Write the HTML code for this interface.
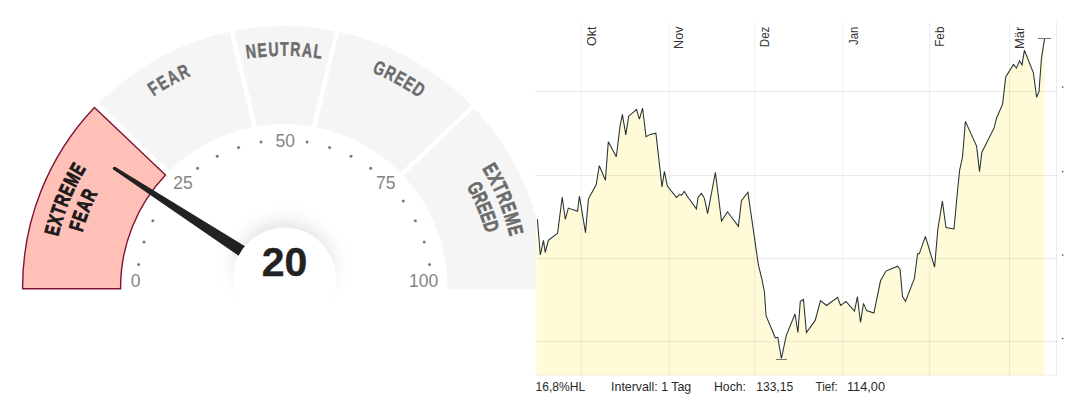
<!DOCTYPE html>
<html><head><meta charset="utf-8"><style>
html,body{margin:0;padding:0;background:#fff;width:1079px;height:412px;overflow:hidden}
svg{display:block}
</style></head><body>
<svg width="1079" height="412" viewBox="0 0 1079 412">
<defs><filter id="blr" x="-50%" y="-50%" width="200%" height="200%"><feGaussianBlur stdDeviation="9"/></filter><linearGradient id="mg" x1="0" y1="0" x2="0" y2="412" gradientUnits="userSpaceOnUse"><stop offset="0.62" stop-color="#fff"/><stop offset="0.735" stop-color="#000"/></linearGradient><mask id="gclip" maskUnits="userSpaceOnUse" x="0" y="0" width="600" height="412"><rect x="0" y="0" width="600" height="412" fill="url(#mg)"/></mask></defs>
<path d="M22.60 288.7 L22.60 287.50 A261.5 261.5 0 0 1 545.60 287.50 L545.60 288.7 L447.60 288.7 L447.60 287.50 A163.5 163.5 0 0 0 120.60 287.50 L120.60 288.7 Z" fill="#f5f5f5"/>
<line x1="229.89" y1="23.67" x2="256.31" y2="133.23" stroke="#fff" stroke-width="4.5"/>
<line x1="338.91" y1="23.67" x2="312.49" y2="132.73" stroke="#fff" stroke-width="4.5"/>
<line x1="478.05" y1="101.77" x2="397.75" y2="178.03" stroke="#fff" stroke-width="4.5"/>
<path d="M22.60 288.7 L22.60 287.50 A261.5 261.5 0 0 1 94.41 107.50 L165.50 174.95 A163.5 163.5 0 0 0 120.60 287.50 L120.60 288.7 Z" fill="none" stroke="#fff" stroke-width="12" stroke-linejoin="miter"/>
<path d="M22.60 288.7 L22.60 287.50 A261.5 261.5 0 0 1 94.41 107.50 L165.50 174.95 A163.5 163.5 0 0 0 120.60 287.50 L120.60 288.7 Z" fill="#ffc0b8" stroke="#7d1434" stroke-width="1.4" stroke-linejoin="miter"/>
<g font-family='"Liberation Sans", sans-serif' font-weight="bold" font-size="20.5" fill="#1a1a1a" stroke="#1a1a1a" stroke-width="0.9"><text transform="translate(59.23 232.02) rotate(-75.66) scale(0.7 1)" text-anchor="middle">E</text><text transform="translate(62.02 222.06) rotate(-73.10) scale(0.7 1)" text-anchor="middle">X</text><text transform="translate(65.11 212.62) rotate(-70.65) scale(0.7 1)" text-anchor="middle">T</text><text transform="translate(68.75 202.94) rotate(-68.09) scale(0.7 1)" text-anchor="middle">R</text><text transform="translate(72.99 193.08) rotate(-65.44) scale(0.7 1)" text-anchor="middle">E</text><text transform="translate(78.04 182.71) rotate(-62.59) scale(0.7 1)" text-anchor="middle">M</text><text transform="translate(83.60 172.60) rotate(-59.74) scale(0.7 1)" text-anchor="middle">E</text></g>
<g font-family='"Liberation Sans", sans-serif' font-weight="bold" font-size="20.5" fill="#1a1a1a" stroke="#1a1a1a" stroke-width="0.9"><text transform="translate(83.42 228.33) rotate(-73.04) scale(0.7 1)" text-anchor="middle">F</text><text transform="translate(86.61 218.70) rotate(-70.27) scale(0.7 1)" text-anchor="middle">E</text><text transform="translate(90.58 208.50) rotate(-67.28) scale(0.7 1)" text-anchor="middle">A</text><text transform="translate(95.24 198.16) rotate(-64.18) scale(0.7 1)" text-anchor="middle">R</text></g>
<g font-family='"Liberation Sans", sans-serif' font-weight="bold" font-size="19.6" fill="#6b6b6b" stroke="#6b6b6b" stroke-width="0.45"><text transform="translate(157.01 94.15) rotate(-33.03) scale(0.72 1)" text-anchor="middle">F</text><text transform="translate(165.97 88.60) rotate(-30.43) scale(0.72 1)" text-anchor="middle">E</text><text transform="translate(175.88 83.11) rotate(-27.65) scale(0.72 1)" text-anchor="middle">A</text><text transform="translate(186.39 77.93) rotate(-24.77) scale(0.72 1)" text-anchor="middle">R</text></g>
<g font-family='"Liberation Sans", sans-serif' font-weight="bold" font-size="19.6" fill="#6b6b6b" stroke="#6b6b6b" stroke-width="0.45"><text transform="translate(251.70 58.04) rotate(-7.94) scale(0.72 1)" text-anchor="middle">N</text><text transform="translate(262.69 56.77) rotate(-5.23) scale(0.72 1)" text-anchor="middle">E</text><text transform="translate(273.73 56.03) rotate(-2.52) scale(0.72 1)" text-anchor="middle">U</text><text transform="translate(284.40 55.80) rotate(0.10) scale(0.72 1)" text-anchor="middle">T</text><text transform="translate(295.06 56.06) rotate(2.71) scale(0.72 1)" text-anchor="middle">R</text><text transform="translate(306.49 56.88) rotate(5.52) scale(0.72 1)" text-anchor="middle">A</text><text transform="translate(317.08 58.15) rotate(8.14) scale(0.72 1)" text-anchor="middle">L</text></g>
<g font-family='"Liberation Sans", sans-serif' font-weight="bold" font-size="19.6" fill="#6b6b6b" stroke="#6b6b6b" stroke-width="0.45"><text transform="translate(376.82 74.37) rotate(23.34) scale(0.72 1)" text-anchor="middle">G</text><text transform="translate(387.30 79.20) rotate(26.16) scale(0.72 1)" text-anchor="middle">R</text><text transform="translate(396.84 84.16) rotate(28.79) scale(0.72 1)" text-anchor="middle">E</text><text transform="translate(405.82 89.36) rotate(31.33) scale(0.72 1)" text-anchor="middle">E</text><text transform="translate(414.87 95.16) rotate(33.96) scale(0.72 1)" text-anchor="middle">D</text></g>
<g font-family='"Liberation Sans", sans-serif' font-weight="bold" font-size="20.5" fill="#6b6b6b" stroke="#6b6b6b" stroke-width="0.7"><text transform="translate(484.40 172.60) rotate(59.74) scale(0.7 1)" text-anchor="middle">E</text><text transform="translate(489.41 181.65) rotate(62.30) scale(0.7 1)" text-anchor="middle">X</text><text transform="translate(493.84 190.55) rotate(64.75) scale(0.7 1)" text-anchor="middle">T</text><text transform="translate(498.04 199.99) rotate(67.31) scale(0.7 1)" text-anchor="middle">R</text><text transform="translate(501.95 209.99) rotate(69.96) scale(0.7 1)" text-anchor="middle">E</text><text transform="translate(505.63 220.92) rotate(72.81) scale(0.7 1)" text-anchor="middle">M</text><text transform="translate(508.77 232.02) rotate(75.66) scale(0.7 1)" text-anchor="middle">E</text></g>
<g font-family='"Liberation Sans", sans-serif' font-weight="bold" font-size="20.5" fill="#6b6b6b" stroke="#6b6b6b" stroke-width="0.7"><text transform="translate(469.07 191.31) rotate(62.05) scale(0.7 1)" text-anchor="middle">G</text><text transform="translate(473.86 200.94) rotate(64.99) scale(0.7 1)" text-anchor="middle">R</text><text transform="translate(477.86 210.06) rotate(67.72) scale(0.7 1)" text-anchor="middle">E</text><text transform="translate(481.28 218.99) rotate(70.33) scale(0.7 1)" text-anchor="middle">E</text><text transform="translate(484.41 228.45) rotate(73.06) scale(0.7 1)" text-anchor="middle">D</text></g>
<circle cx="138.61" cy="264.46" r="1.5" fill="#7a7a7a"/>
<circle cx="144.01" cy="241.98" r="1.5" fill="#7a7a7a"/>
<circle cx="152.85" cy="220.63" r="1.5" fill="#7a7a7a"/>
<circle cx="164.93" cy="200.92" r="1.5" fill="#7a7a7a"/>
<circle cx="197.52" cy="168.33" r="1.5" fill="#7a7a7a"/>
<circle cx="217.23" cy="156.25" r="1.5" fill="#7a7a7a"/>
<circle cx="238.58" cy="147.41" r="1.5" fill="#7a7a7a"/>
<circle cx="261.06" cy="142.01" r="1.5" fill="#7a7a7a"/>
<circle cx="307.14" cy="142.01" r="1.5" fill="#7a7a7a"/>
<circle cx="329.62" cy="147.41" r="1.5" fill="#7a7a7a"/>
<circle cx="350.97" cy="156.25" r="1.5" fill="#7a7a7a"/>
<circle cx="370.68" cy="168.33" r="1.5" fill="#7a7a7a"/>
<circle cx="403.27" cy="200.92" r="1.5" fill="#7a7a7a"/>
<circle cx="415.35" cy="220.63" r="1.5" fill="#7a7a7a"/>
<circle cx="424.19" cy="241.98" r="1.5" fill="#7a7a7a"/>
<circle cx="429.59" cy="264.46" r="1.5" fill="#7a7a7a"/>
<text x="135.5" y="286.5" text-anchor="middle" font-family='"Liberation Sans", sans-serif' font-size="17.5" fill="#858585">0</text>
<text x="183" y="188.9" text-anchor="middle" font-family='"Liberation Sans", sans-serif' font-size="17.5" fill="#858585">25</text>
<text x="285.3" y="146.5" text-anchor="middle" font-family='"Liberation Sans", sans-serif' font-size="17.5" fill="#858585">50</text>
<text x="385.8" y="189.2" text-anchor="middle" font-family='"Liberation Sans", sans-serif' font-size="17.5" fill="#858585">75</text>
<text x="423.7" y="286.5" text-anchor="middle" font-family='"Liberation Sans", sans-serif' font-size="17.5" fill="#858585">100</text>
<polygon points="113.57,169.83 238.29,255.62 271.85,277.38 278.16,267.65 244.61,245.88 115.43,166.97" fill="#222"/>
<circle cx="114.5" cy="168.4" r="1.7" fill="#222"/>
<g mask="url(#gclip)"><circle cx="284.5" cy="272" r="50" fill="#000" fill-opacity="0.12" filter="url(#blr)"/></g>
<circle cx="284.5" cy="279" r="51.5" fill="#fff"/>
<text x="284.5" y="276.1" text-anchor="middle" font-family='"Liberation Sans", sans-serif' font-weight="bold" font-size="41" fill="#222" stroke="#222" stroke-width="0.35">20</text>
<rect x="536" y="0" width="543" height="412" fill="#fff"/>
<polygon points="536.5,375 536.5,219.3 537.4,219.3 540.3,255.0 543.5,240.4 545.2,252.5 548.4,240.4 557.6,233.1 562.2,197.2 565.3,219.3 568.3,208.1 577.5,211.3 579.4,196.2 585.5,232.6 588.4,199.1 596.2,184.5 599.3,165.7 605.4,180.3 608.3,141.7 616.3,156.8 620,126.4 622.4,114.3 625.8,134.9 628.7,116.2 636.5,109.4 639.4,119.1 642.6,108.2 646,136.6 650.3,134.4 655.9,133.2 662.0,187.0 664.4,171.3 667.3,186.0 676.5,197.4 679.9,194.3 681.4,195.2 684.3,191.4 688,197.2 696.4,208.8 698.1,197.2 701.5,193.5 704.5,198.6 707.6,213.7 715.4,172.4 721.5,221 727.5,211.8 738.4,226.3 741.4,200.8 747.9,192.3 758.4,265 762,279.6 764.4,291.7 766.1,316 775.3,337.8 777.8,337.3 781.4,358.5 786.3,335.4 795,314.0 797.9,332.5 800.3,301.4 803.5,299.5 806.4,332.5 815.2,320.4 820.5,300.7 826.6,305.5 837.5,297.3 840.6,305.5 846,301.4 854.5,311.1 857.4,296.6 860.5,322.5 863.5,303.4 866.6,310.6 873.9,313.1 880.5,280.8 886,271.1 897.5,266.2 900.1,269.4 902.5,296.6 905.5,301.4 914.4,278.4 917.6,253.8 919.3,253.8 925.4,236.3 934.6,267.1 937.8,229.5 942.4,201.1 946,227.5 954,229 957.2,194.3 959.6,170.4 962.5,157 965.4,121.4 976.6,146.1 979.5,171.6 981.9,152.2 994.1,127.9 996.5,118.2 1002.6,104.1 1005.7,77 1013.5,64.4 1016.4,68.1 1019.6,60.8 1022,64.9 1024.4,50.3 1033.4,72.9 1036.6,97.2 1039,91.6 1041.4,58.8 1044.6,38.2 1044.6,375" fill="#fffad8"/>
<line x1="581.3" y1="22.5" x2="581.3" y2="375.5" stroke="#000" stroke-opacity="0.075" stroke-width="1"/>
<line x1="669.3" y1="22.5" x2="669.3" y2="375.5" stroke="#000" stroke-opacity="0.075" stroke-width="1"/>
<line x1="754.7" y1="22.5" x2="754.7" y2="375.5" stroke="#000" stroke-opacity="0.075" stroke-width="1"/>
<line x1="842.8" y1="22.5" x2="842.8" y2="375.5" stroke="#000" stroke-opacity="0.075" stroke-width="1"/>
<line x1="929.7" y1="22.5" x2="929.7" y2="375.5" stroke="#000" stroke-opacity="0.075" stroke-width="1"/>
<line x1="1009.6" y1="22.5" x2="1009.6" y2="375.5" stroke="#000" stroke-opacity="0.075" stroke-width="1"/>
<line x1="1056.5" y1="22" x2="1056.5" y2="375.5" stroke="#000" stroke-opacity="0.075" stroke-width="1"/>
<line x1="534.5" y1="91.5" x2="1057" y2="91.5" stroke="#000" stroke-opacity="0.075" stroke-width="1"/>
<line x1="534.5" y1="175.5" x2="1057" y2="175.5" stroke="#000" stroke-opacity="0.075" stroke-width="1"/>
<line x1="536.5" y1="258.5" x2="1057" y2="258.5" stroke="#000" stroke-opacity="0.075" stroke-width="1"/>
<line x1="534.5" y1="341.5" x2="1057" y2="341.5" stroke="#000" stroke-opacity="0.075" stroke-width="1"/>
<line x1="534.5" y1="375" x2="1057" y2="375" stroke="#000" stroke-opacity="0.075" stroke-width="1"/>
<polyline points="537.4,219.3 540.3,255.0 543.5,240.4 545.2,252.5 548.4,240.4 557.6,233.1 562.2,197.2 565.3,219.3 568.3,208.1 577.5,211.3 579.4,196.2 585.5,232.6 588.4,199.1 596.2,184.5 599.3,165.7 605.4,180.3 608.3,141.7 616.3,156.8 620,126.4 622.4,114.3 625.8,134.9 628.7,116.2 636.5,109.4 639.4,119.1 642.6,108.2 646,136.6 650.3,134.4 655.9,133.2 662.0,187.0 664.4,171.3 667.3,186.0 676.5,197.4 679.9,194.3 681.4,195.2 684.3,191.4 688,197.2 696.4,208.8 698.1,197.2 701.5,193.5 704.5,198.6 707.6,213.7 715.4,172.4 721.5,221 727.5,211.8 738.4,226.3 741.4,200.8 747.9,192.3 758.4,265 762,279.6 764.4,291.7 766.1,316 775.3,337.8 777.8,337.3 781.4,358.5 786.3,335.4 795,314.0 797.9,332.5 800.3,301.4 803.5,299.5 806.4,332.5 815.2,320.4 820.5,300.7 826.6,305.5 837.5,297.3 840.6,305.5 846,301.4 854.5,311.1 857.4,296.6 860.5,322.5 863.5,303.4 866.6,310.6 873.9,313.1 880.5,280.8 886,271.1 897.5,266.2 900.1,269.4 902.5,296.6 905.5,301.4 914.4,278.4 917.6,253.8 919.3,253.8 925.4,236.3 934.6,267.1 937.8,229.5 942.4,201.1 946,227.5 954,229 957.2,194.3 959.6,170.4 962.5,157 965.4,121.4 976.6,146.1 979.5,171.6 981.9,152.2 994.1,127.9 996.5,118.2 1002.6,104.1 1005.7,77 1013.5,64.4 1016.4,68.1 1019.6,60.8 1022,64.9 1024.4,50.3 1033.4,72.9 1036.6,97.2 1039,91.6 1041.4,58.8 1044.6,38.2" fill="none" stroke="#263232" stroke-width="1.05" stroke-linejoin="miter" stroke-miterlimit="3"/>
<line x1="1038" y1="38.5" x2="1051" y2="38.5" stroke="#777" stroke-width="1"/>
<line x1="776" y1="359.5" x2="787" y2="359.5" stroke="#777" stroke-width="1"/>
<rect x="1062" y="86.4" width="1.3" height="1.3" fill="#333"/>
<rect x="1062" y="170.9" width="1.3" height="1.3" fill="#333"/>
<rect x="1062" y="254.4" width="1.3" height="1.3" fill="#333"/>
<rect x="1062" y="337.9" width="1.3" height="1.3" fill="#333"/>
<text transform="translate(595.8 26.6) rotate(-90)" text-anchor="end" textLength="19.4" lengthAdjust="spacingAndGlyphs" font-family='"Liberation Sans", sans-serif' font-size="13" fill="#333">Okt</text>
<text transform="translate(683.3 26.6) rotate(-90)" text-anchor="end" textLength="22.3" lengthAdjust="spacingAndGlyphs" font-family='"Liberation Sans", sans-serif' font-size="13" fill="#333">Nov</text>
<text transform="translate(768.5 26.6) rotate(-90)" text-anchor="end" textLength="20.6" lengthAdjust="spacingAndGlyphs" font-family='"Liberation Sans", sans-serif' font-size="13" fill="#333">Dez</text>
<text transform="translate(857.8 26.6) rotate(-90)" text-anchor="end" textLength="18.3" lengthAdjust="spacingAndGlyphs" font-family='"Liberation Sans", sans-serif' font-size="13" fill="#333">Jan</text>
<text transform="translate(944.3 26.6) rotate(-90)" text-anchor="end" textLength="20.2" lengthAdjust="spacingAndGlyphs" font-family='"Liberation Sans", sans-serif' font-size="13" fill="#333">Feb</text>
<text transform="translate(1024.4 26.6) rotate(-90)" text-anchor="end" textLength="22.4" lengthAdjust="spacingAndGlyphs" font-family='"Liberation Sans", sans-serif' font-size="13" fill="#333">Mär</text>
<text x="535.5" y="391.3" textLength="49.8" lengthAdjust="spacingAndGlyphs" font-family='"Liberation Sans", sans-serif' font-size="13" fill="#2a2a2a">16,8%HL</text>
<text x="611.1" y="391.3" textLength="80.1" lengthAdjust="spacingAndGlyphs" font-family='"Liberation Sans", sans-serif' font-size="13" fill="#2a2a2a">Intervall: 1 Tag</text>
<text x="714" y="391.3" textLength="32" lengthAdjust="spacingAndGlyphs" font-family='"Liberation Sans", sans-serif' font-size="13" fill="#2a2a2a">Hoch:</text>
<text x="756.2" y="391.3" textLength="37" lengthAdjust="spacingAndGlyphs" font-family='"Liberation Sans", sans-serif' font-size="13" fill="#2a2a2a">133,15</text>
<text x="815.5" y="391.3" textLength="22.2" lengthAdjust="spacingAndGlyphs" font-family='"Liberation Sans", sans-serif' font-size="13" fill="#2a2a2a">Tief:</text>
<text x="846.9" y="391.3" textLength="38.1" lengthAdjust="spacingAndGlyphs" font-family='"Liberation Sans", sans-serif' font-size="13" fill="#2a2a2a">114,00</text>
</svg>
</body></html>
